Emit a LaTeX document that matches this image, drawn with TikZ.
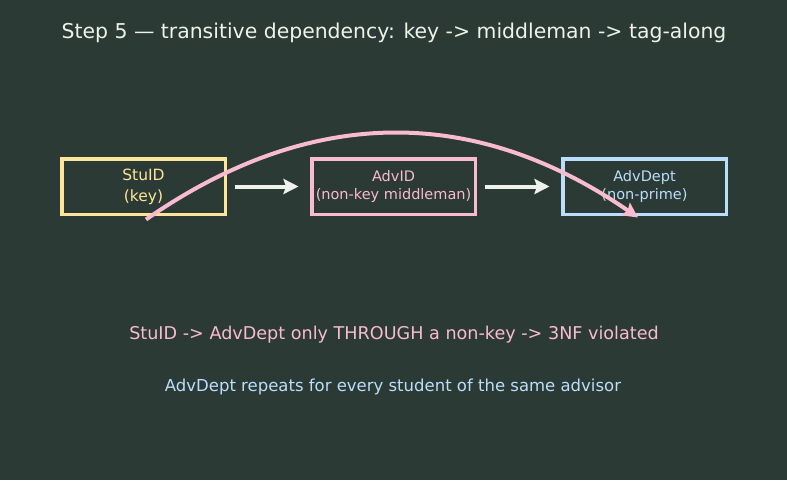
\documentclass[tikz,border=0pt]{standalone}
\usepackage{fontspec}
\setmainfont{DejaVu Sans}
\usetikzlibrary{positioning, arrows.meta}
\definecolor{bgslate}{HTML}{2B3A34}
\definecolor{keyyellow}{HTML}{FFE599}
\definecolor{midpink}{HTML}{F8BBD0}
\definecolor{primeblue}{HTML}{BBDEFB}
\definecolor{flowwhite}{HTML}{EEF2EA}

\begin{document}
\begin{tikzpicture}[
                x=1pt, y=-1pt,
                >={Stealth[length=15pt, width=15pt, inset=2.5pt]},
                attr/.style={draw, line width=3.5pt, minimum width=163.5pt, minimum height=55.5pt, inner sep=0pt, align=center},
                flow/.style={->, line width=4pt, draw=flowwhite},
                depcurve/.style={->, line width=4pt, draw=midpink},
                note/.style={font=\fontsize{16.5}{20}\selectfont},
            ]

                % Background and page size
                \fill[bgslate] (0,0) rectangle (787,480);
                \useasboundingbox (0,0) rectangle (787,480);

                % Title
                \node[text=flowwhite, font=\fontsize{20.4}{24}\selectfont] (title) at (394,33) {Step 5 — transitive dependency: key -> middleman -> tag-along};

                % Draw the attribute boxes
                \node[attr, draw=keyyellow, text=keyyellow, font=\fontsize{15.5}{21}\selectfont] (stu) at (143.5,186.5) {StuID\\(key)};
                \node[attr, draw=midpink, text=midpink, font=\fontsize{14.5}{18}\selectfont] (adv) at (393.5,186.5) {AdvID\\(non-key middleman)};
                \node[attr, draw=primeblue, text=primeblue, font=\fontsize{14.5}{18}\selectfont] (dept) at (644.5,186.5) {AdvDept\\(non-prime)};

                % Connect every box with the next one
                \foreach \src/\dst in {stu/adv, adv/dept}
                    \draw[flow, shorten <=7.5pt, shorten >=11.5pt] (\src) -- (\dst);

                % Transitive dependency, jumping over the middleman
                \draw[depcurve] ([xshift=2.5pt, yshift=-3.5pt]stu.south) .. controls +(164,-114) and +(-164,-113) .. ([xshift=-6.5pt, yshift=-1.5pt]dept.south);

                % Notes under the chain
                \node[note, text=midpink, font=\fontsize{17.6}{21}\selectfont] (verdict) at (394,335) {StuID -> AdvDept only THROUGH a non-key -> 3NF violated};
                \node[note, text=primeblue] (effect) at (393,387) {AdvDept repeats for every student of the same advisor};
            \end{tikzpicture}
\end{document}
